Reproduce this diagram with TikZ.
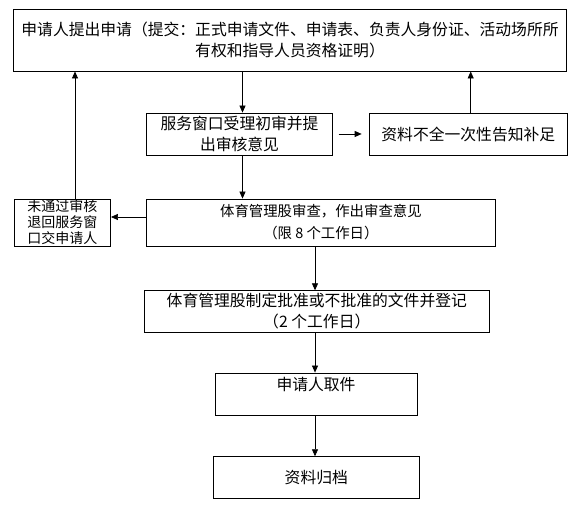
\documentclass[tikz,border=0pt]{standalone}
\usepackage{fontspec}
\newfontfamily\cjk{Noto Sans CJK SC}
\usepackage{tikz}
\usetikzlibrary{arrows.meta,positioning,calc}

\begin{document}
\begin{tikzpicture}[x=1pt,y=1pt,>={Triangle[length=7pt,width=6pt]},
  box/.style={draw,line width=0.8pt,inner sep=0pt,align=center,
    font=\cjk\fontsize{15.8}{21}\selectfont},
  small/.style={font=\cjk\fontsize{14.4}{22}\selectfont},
  arr/.style={->,line width=0.7pt}]
  \useasboundingbox (0,0) rectangle (585,-518);
  % main column
  \node[box,minimum width=552.5,minimum height=61.5](apply) at (290,-40.3)
    {申请人提出申请（提交：正式申请文件、申请表、负责人身份证、活动场所所\\有权和指导人员资格证明）};
  \node[box,minimum width=185.6,minimum height=42](window) at (239.5,-134)
    {服务窗口受理初审并提\\出审核意见};
  \node[box,minimum width=198.5,minimum height=42](lack) at (468.3,-134)
    {资料不全一次性告知补足};
  \node[box,small,minimum width=348.3,minimum height=47](review) at (320.9,-222.5)
    {体育管理股审查，作出审查意见\\（限 8 个工作日）};
  \node[box,minimum width=96.5,minimum height=47,
    font=\cjk\fontsize{14}{16}\selectfont](reject) at (62.3,-222.5)
    {未通过审核\\退回服务窗\\口交申请人};
  \node[box,minimum width=344.5,minimum height=41.3](decide) at (316.8,-311.4)
    {体育管理股制定批准或不批准的文件并登记\\（2 个工作日）};
  \node[box,minimum width=202,minimum height=42](fetch) at (316,-394)
    {申请人取件\\\mbox{}};
  \node[box,minimum width=206.5,minimum height=41.8](archive) at (316.3,-477.6)
    {资料归档};
  % connectors
  \draw[arr] ([xshift=3pt]window.north |- apply.south) -- ([xshift=3pt]window.north);
  \draw[arr] ([xshift=6pt]window.east) -- ([xshift=-7pt]lack.west);
  \draw[arr] ([xshift=2.4pt]lack.north) -- ([xshift=2.4pt]lack.north |- apply.south);
  \draw[arr] ([xshift=3pt]window.south) -- ([xshift=3pt]window.south |- review.north);
  \draw[arr] ([yshift=5.5pt]review.west) -- ([yshift=5.5pt]reject.east);
  \draw[arr] ([xshift=12.7pt]reject.north) -- ([xshift=12.7pt]reject.north |- apply.south);
  \draw[arr] ([xshift=-1.8pt]decide.north |- review.south) -- ([xshift=-1.8pt]decide.north);
  \draw[arr] ([xshift=-1pt]fetch.north |- decide.south) -- ([xshift=-1pt]fetch.north);
  \draw[arr] ([xshift=-1pt]fetch.south) -- ([xshift=-1pt]fetch.south |- archive.north);
\end{tikzpicture}
\end{document}
